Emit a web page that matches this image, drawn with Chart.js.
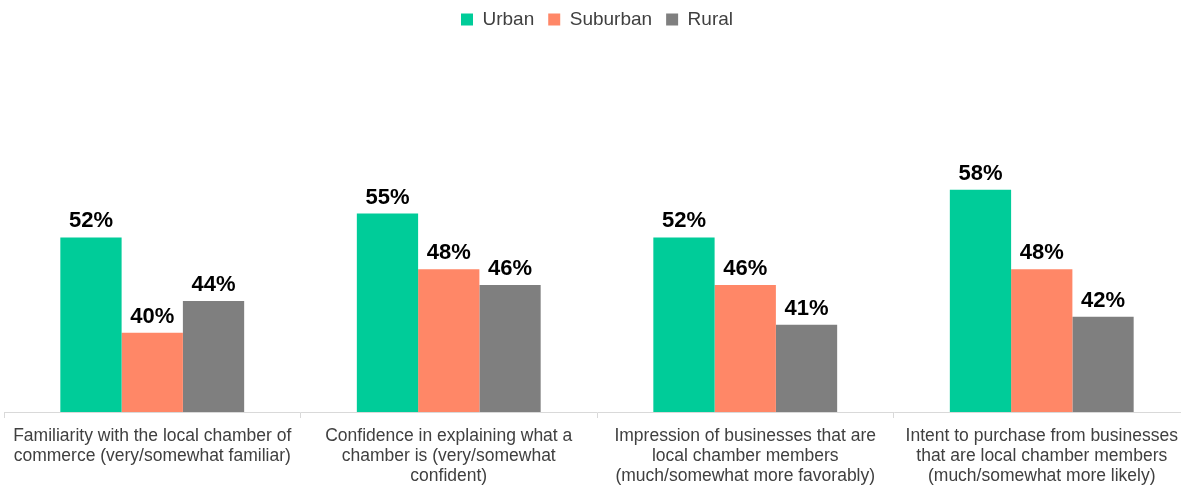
<!DOCTYPE html>
<html>
<head>
<meta charset="utf-8">
<script src="https://cdn.jsdelivr.net/npm/chart.js@4.4.0/dist/chart.umd.min.js"></script>
<style>
  html, body { margin: 0; padding: 0; background: #fff; overflow: hidden; }
  #wrap { position: relative; width: 1192px; height: 498px; margin-top: -4px; }
</style>
</head>
<body>
<div id="wrap"><canvas id="chart"></canvas></div>
<script>
// chart data
const categories = [
    ['Familiarity with the local chamber of', 'commerce (very/somewhat familiar)'],
    ['Confidence in explaining what a', 'chamber is (very/somewhat', 'confident)'],
    ['Impression of businesses that are', 'local chamber members', '(much/somewhat more favorably)'],
    ['Intent to purchase from businesses', 'that are local chamber members', '(much/somewhat more likely)']
];
const urban = [52, 55, 52, 58];
const suburban = [40, 48, 46, 48];
const rural = [44, 46, 41, 42];

// draws the "52%" labels above each bar
const valueLabels = {
    id: 'valueLabels',
    afterDatasetsDraw(chart) {
        const ctx = chart.ctx;
        ctx.save();
        ctx.font = 'bold 22px "Liberation Sans", Arial, sans-serif';
        ctx.fillStyle = '#000';
        ctx.textAlign = 'center';
        ctx.textBaseline = 'alphabetic';
        chart.data.datasets.forEach((ds, i) => {
            chart.getDatasetMeta(i).data.forEach((bar, j) => {
                ctx.fillText(ds.data[j] + '%', bar.x, bar.y - 10);
            });
        });
        ctx.restore();
    }
};

const ctx = document.getElementById('chart').getContext('2d');
new Chart(ctx, {
    type: 'bar',
    data: {
        labels: categories,
        datasets: [
            { label: 'Urban', data: urban, backgroundColor: '#00CC99' },
            { label: 'Suburban', data: suburban, backgroundColor: '#FF8767' },
            { label: 'Rural', data: rural, backgroundColor: '#7F7F7F' }
        ]
    },
    options: {
        responsive: true,
        maintainAspectRatio: false,
        animation: false,
        layout: { padding: { left: 4, right: 2, top: 0, bottom: 0 } },
        datasets: {
            bar: { categoryPercentage: 0.62, barPercentage: 1.0 }
        },
        plugins: {
            legend: {
                position: 'top',
                labels: {
                    boxWidth: 12,
                    boxHeight: 12,
                    padding: 14,
                    color: '#404040',
                    font: { family: '"Liberation Sans", Arial, sans-serif', size: 19 }
                }
            },
            tooltip: { enabled: false }
        },
        scales: {
            x: {
                grid: { display: true, drawOnChartArea: false, drawTicks: true, tickLength: 6, color: '#D9D9D9' },
                border: { color: '#D9D9D9' },
                ticks: {
                    color: '#404040',
                    padding: 8,
                    maxRotation: 0,
                    autoSkip: false,
                    font: { family: '"Liberation Sans", Arial, sans-serif', size: 17.5, lineHeight: '20px' }
                }
            },
            y: {
                display: false,
                min: 30,
                max: 77
            }
        }
    },
    plugins: [valueLabels]
});
</script>
</body>
</html>
